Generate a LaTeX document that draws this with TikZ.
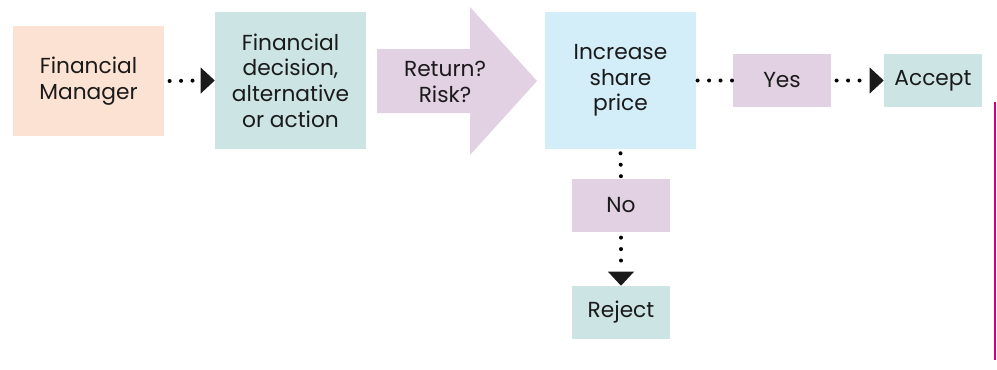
\documentclass[tikz,border=0pt]{standalone}
\usepackage{fontspec}
\setmainfont{Poppins}
\usetikzlibrary{arrows.meta}
\definecolor{peach}{HTML}{FCE2D3}
\definecolor{teal}{HTML}{CCE4E4}
\definecolor{lilac}{HTML}{E2D0E3}
\definecolor{sky}{HTML}{D4EEF9}
\definecolor{ink}{HTML}{1A1A1A}
\definecolor{rule}{HTML}{D6007F}
\begin{document}
\begin{tikzpicture}[x=0.75pt,y=-0.75pt,
  box/.style={rectangle,inner sep=0pt,align=center,text=ink,
    font=\fontsize{16.3}{19.2}\selectfont},
  dotline/.style={line width=3pt,line cap=round,dash pattern=on 0pt off 8.6pt,draw=black}]
\useasboundingbox (0,0) rectangle (997,369);
% boxes
\node[box,fill=peach,minimum width=113.25pt,minimum height=82.5pt] (fm) at (88.5,81) {Financial\\Manager};
\node[box,fill=teal,minimum width=113.25pt,minimum height=102.75pt] (fd) at (290.5,80.5) {Financial\\decision,\\alternative\\or action};
% big arrow
\coordinate (a1) at (377,49);
\coordinate (a2) at (470,49);
\coordinate (a3) at (470,7);
\coordinate (a4) at (537,81);
\coordinate (a5) at (470,155);
\coordinate (a6) at (470,113);
\coordinate (a7) at (377,113);
\fill[lilac] (a1) -- (a2) -- (a3) -- (a4) -- (a5) -- (a6) -- (a7) -- cycle;
\node[box] (rr) at (445,82) {Return?\\Risk?};
\node[box,fill=sky,minimum width=113.25pt,minimum height=102.75pt] (inc) at (620.5,80.5) {Increase\\share\\price};
\node[box,fill=lilac,minimum width=73.5pt,minimum height=39.75pt] (yes) at (782,80.5) {Yes};
\node[box,fill=teal,minimum width=73.5pt,minimum height=39.75pt] (acc) at (933,80.5) {Accept};
\node[box,fill=lilac,minimum width=73.5pt,minimum height=39.75pt] (no) at (621,205.5) {No};
\node[box,fill=teal,minimum width=73.5pt,minimum height=39.75pt] (rej) at (621,312.5) {Reject};
% connectors
\draw[dotline] ([xshift=4pt]fm.east) -- ([xshift=-10.5pt]fd.west);
\fill[ink] (fd.west) -- ++(-10.5pt,9.75pt) -- ++(0,-19.5pt) -- cycle;
\draw[dotline] ([xshift=1pt]inc.east) -- ([xshift=1pt]yes.west);
\draw[dotline] ([xshift=4pt]yes.east) -- ([xshift=-10.5pt]acc.west);
\fill[ink] (acc.west) -- ++(-10.5pt,9.75pt) -- ++(0,-19.5pt) -- cycle;
\draw[dotline] ([yshift=-3pt]inc.south) -- (no.north);
\draw[dotline] ([yshift=-4pt]no.south) -- ([yshift=10.5pt]rej.north);
\fill[ink] (rej.north) -- ++(-9.75pt,10.5pt) -- ++(19.5pt,0) -- cycle;
% vertical rule on the right
\coordinate (r1) at (995,102);
\coordinate (r2) at (995,360);
\draw[rule,line width=1.6pt] (r1) -- (r2);
\end{tikzpicture}
\end{document}
